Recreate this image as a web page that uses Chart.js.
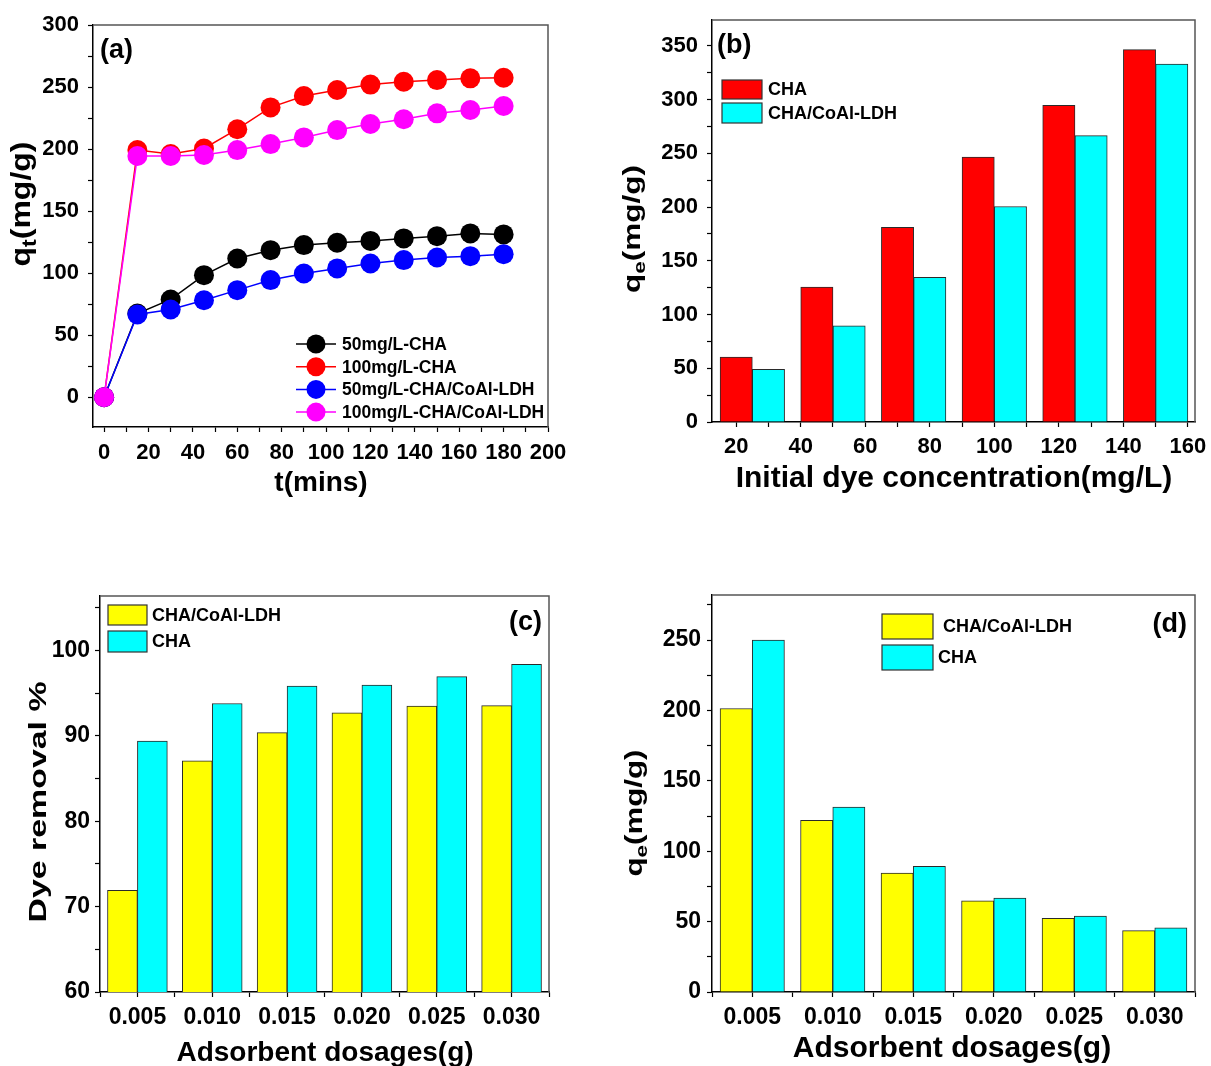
<!DOCTYPE html>
<html>
<head>
<meta charset="utf-8">
<title>Adsorption of dye on CHA and CHA/CoAl-LDH</title>
<script src="https://cdn.jsdelivr.net/npm/chart.js@4.4.1/dist/chart.umd.min.js"></script>
<style>
  html, body { margin: 0; padding: 0; background: #fff; overflow: hidden; }
  #wrap { position: relative; width: 1211px; height: 1066px; }
  #wrap canvas { position: absolute; left: 0; top: 0; }
</style>
</head>
<body>
<div id="wrap">
  <canvas id="panelA" width="1211" height="1066"></canvas>
  <canvas id="panelB" width="1211" height="1066"></canvas>
  <canvas id="panelC" width="1211" height="1066"></canvas>
  <canvas id="panelD" width="1211" height="1066"></canvas>
</div>
<script>
// ---- (a) contact time kinetics ----
const timeMin = [0, 15, 30, 45, 60, 75, 90, 105, 120, 135, 150, 165, 180];
const qtCHA50 = [0, 67.5, 78.8, 98.4, 111.8, 118.5, 122.6, 124.5, 126, 128, 129.8, 132, 131.2];
const qtCHA100 = [0, 199.2, 196, 200.5, 216, 233.6, 242.7, 247.6, 252, 254.3, 255.6, 257, 257.5];
const qtLDH50 = [0, 66.7, 70.7, 78.2, 86.3, 94.4, 99.7, 103.8, 107.8, 110.5, 112.6, 113.7, 115.3];
const qtLDH100 = [0, 194.4, 194.4, 195.2, 199.2, 204, 209.4, 215.3, 220.2, 224, 228.8, 231.5, 234.7];
const kineticsLabels = ['50mg/L-CHA', '100mg/L-CHA', '50mg/L-CHA/CoAl-LDH', '100mg/L-CHA/CoAl-LDH'];

// ---- (b) initial dye concentration ----
const initConc = [25, 50, 75, 100, 125, 150];
const qeConcCHA = [60.5, 125.5, 181, 246.5, 294.5, 346.5];
const qeConcLDH = [49, 89.5, 134.5, 200.5, 266.5, 333];

// ---- (c), (d) adsorbent dosage ----
const dosages = ['0.005', '0.010', '0.015', '0.020', '0.025', '0.030'];
const removalLDH = [71.9, 87.1, 90.4, 92.7, 93.5, 93.55];
const removalCHA = [89.4, 93.8, 95.85, 95.95, 96.95, 98.4];
const qeDoseLDH = [201.4, 122, 84.4, 64.7, 52.4, 43.6];
const qeDoseCHA = [250, 131.3, 89.3, 66.8, 54, 45.5];

const FONT = '"Liberation Sans", Arial, Helvetica, sans-serif';
const W = 1211, H = 1066;
const RED = '#ff0000', CYAN = '#00ffff', YELLOW = '#ffff00';
const BLACK = '#000000', BLUE = '#0000ff', MAGENTA = '#ff00ff';

Chart.defaults.font.family = FONT;
Chart.defaults.color = '#000';
Chart.defaults.animation = false;
Chart.defaults.events = [];
Chart.defaults.plugins.legend.display = false;
Chart.defaults.plugins.tooltip.enabled = false;

function boldFont(size) { return 'bold ' + size + 'px ' + FONT; }

// Plot frames (pixel boxes of each chart area on the page)
const frameA = { l: 93, r: 548, t: 25, b: 427 };
const frameB = { l: 712, r: 1195, t: 20, b: 422 };
const frameC = { l: 100, r: 549, t: 596, b: 992 };
const frameD = { l: 712, r: 1195, t: 595, b: 992 };
const Y_W = 80, X_H = 50;

function paddingFor(f) {
  return { left: f.l - Y_W, top: f.t, right: W - f.r, bottom: H - f.b - X_H };
}
function fixSize(scale) {
  if (scale.isHorizontal()) scale.height = X_H; else scale.width = Y_W;
  scale.paddingLeft = scale.paddingRight = scale.paddingTop = scale.paddingBottom = 0;
}
function axis(opts) {
  return {
    type: 'linear',
    min: opts.min, max: opts.max,
    offset: false,
    afterFit: fixSize,
    border: { display: true, color: '#000', width: 1.5 },
    grid: { display: true, offset: false, drawOnChartArea: false, drawTicks: true, tickLength: 5, tickColor: '#000', tickWidth: 1.2 },
    ticks: {
      stepSize: opts.step, includeBounds: false, autoSkip: false, maxRotation: 0, minRotation: 0,
      padding: opts.pad, color: '#000',
      font: { family: FONT, size: opts.size, weight: 'bold' },
      callback: opts.label
    }
  };
}
const everyOther = (major) => (v) => (Math.abs(v / major - Math.round(v / major)) < 1e-9 ? String(v) : '');
const dosageLabel = (v) => (Number.isInteger(v) && v >= 1 && v <= dosages.length ? dosages[v - 1] : '');

// Frame, panel tag, axis titles and legend box
const decor = {
  id: 'decor',
  afterDatasetsDraw(chart, args, o) {
    const ctx = chart.ctx, a = chart.chartArea;
    ctx.save();
    ctx.strokeStyle = '#555';
    ctx.lineWidth = 1.5;
    ctx.beginPath();
    ctx.moveTo(a.left, a.top);
    ctx.lineTo(a.right, a.top);
    ctx.lineTo(a.right, a.bottom);
    ctx.stroke();

    ctx.fillStyle = '#000';
    // panel tag
    if (o.tag) {
      ctx.font = boldFont(o.tag.size);
      ctx.textAlign = o.tag.align;
      ctx.textBaseline = 'middle';
      ctx.fillText(o.tag.text, o.tag.x, o.tag.y);
    }
    // x title
    if (o.xTitle) {
      ctx.font = boldFont(o.xTitle.size);
      ctx.textAlign = 'center';
      ctx.textBaseline = 'middle';
      ctx.fillText(o.xTitle.text, o.xTitle.x, o.xTitle.y);
    }
    // y title (rotated, with optional subscript)
    if (o.yTitle) {
      const t = o.yTitle;
      ctx.save();
      ctx.translate(t.x, t.y);
      ctx.rotate(-Math.PI / 2);
      let total = 0;
      const widths = t.parts.map(p => {
        ctx.font = boldFont(p.sub ? t.size * 0.72 : t.size);
        const w = ctx.measureText(p.text).width;
        total += w;
        return w;
      });
      ctx.scale(t.len / total, 1);
      ctx.textAlign = 'left';
      ctx.textBaseline = 'middle';
      let x = -total / 2;
      t.parts.forEach((p, i) => {
        ctx.font = boldFont(p.sub ? t.size * 0.72 : t.size);
        ctx.fillText(p.text, x, p.sub ? t.size * 0.3 : 0);
        x += widths[i];
      });
      ctx.restore();
    }
    // legend
    if (o.legend) {
      const L = o.legend;
      const sets = chart.data.datasets;
      ctx.font = boldFont(L.size);
      ctx.textAlign = 'left';
      ctx.textBaseline = 'middle';
      if (L.kind === 'marker') {
        sets.forEach((ds, i) => {
          const y = L.y0 + i * L.dy;
          ctx.strokeStyle = ds.borderColor;
          ctx.lineWidth = 1.5;
          ctx.beginPath();
          ctx.moveTo(L.x0, y);
          ctx.lineTo(L.x1, y);
          ctx.stroke();
          ctx.fillStyle = ds.backgroundColor;
          ctx.beginPath();
          ctx.arc(L.cx, y, L.r, 0, Math.PI * 2);
          ctx.fill();
          ctx.fillStyle = '#000';
          ctx.fillText(ds.label, L.tx, y + 1);
        });
      } else {
        L.rows.forEach((row, i) => {
          const ds = sets[i];
          ctx.fillStyle = ds.backgroundColor;
          ctx.fillRect(L.x, row.y, L.w, row.h);
          ctx.strokeStyle = '#333';
          ctx.lineWidth = 1.2;
          ctx.strokeRect(L.x, row.y, L.w, row.h);
          ctx.fillStyle = '#000';
          ctx.fillText(ds.label, row.tx, row.y + row.h / 2 + 1);
        });
      }
    }
    ctx.restore();
  }
};
Chart.register(decor);

// ---------- (a) ----------
function series(xs, ys) { return xs.map((x, i) => ({ x: x, y: ys[i] })); }
function lineSet(label, values, color, order) {
  return {
    label: label, data: series(timeMin, values), order: order,
    borderColor: color, backgroundColor: color,
    borderWidth: 1.5, pointRadius: 10, pointHoverRadius: 10,
    pointBorderWidth: 0, pointBackgroundColor: color, tension: 0, clip: false
  };
}
new Chart(document.getElementById('panelA'), {
  type: 'line',
  data: {
    datasets: [
      lineSet(kineticsLabels[0], qtCHA50, BLACK, 4),
      lineSet(kineticsLabels[1], qtCHA100, RED, 3),
      lineSet(kineticsLabels[2], qtLDH50, BLUE, 2),
      lineSet(kineticsLabels[3], qtLDH100, MAGENTA, 1)
    ]
  },
  options: {
    responsive: false,
    layout: { padding: paddingFor(frameA) },
    scales: {
      x: axis({ min: -5, max: 200, step: 10, pad: 8, size: 22, label: everyOther(20) }),
      y: axis({ min: -24, max: 300, step: 25, pad: 9, size: 22, label: everyOther(50) })
    },
    plugins: {
      decor: {
        tag: { text: '(a)', x: 100, y: 51, size: 27, align: 'left' },
        xTitle: { text: 't(mins)', x: 321, y: 483, size: 28 },
        yTitle: { parts: [{ text: 'q' }, { text: 't', sub: true }, { text: '(mg/g)' }], x: 23, y: 204, size: 27, len: 125 },
        legend: { kind: 'marker', x0: 296, x1: 336, cx: 316, r: 9.5, tx: 342, y0: 344, dy: 22.7, size: 17.5 }
      }
    }
  }
});

// ---------- bar helpers ----------
function barSet(label, xs, ys, color) {
  return {
    label: label, data: series(xs, ys),
    backgroundColor: color, borderColor: '#2a2a2a', borderWidth: 1,
    barThickness: 'flex', categoryPercentage: 0.8, barPercentage: 1.0
  };
}
const dosePos = dosages.map((d, i) => i + 1);

// ---------- (b) ----------
new Chart(document.getElementById('panelB'), {
  type: 'bar',
  data: {
    datasets: [
      barSet('CHA', initConc, qeConcCHA, RED),
      barSet('CHA/CoAl-LDH', initConc, qeConcLDH, CYAN)
    ]
  },
  options: {
    responsive: false,
    layout: { padding: paddingFor(frameB) },
    scales: {
      x: axis({ min: 12.5, max: 162.2, step: 10, pad: 7, size: 22, label: everyOther(20) }),
      y: axis({ min: 0, max: 374, step: 25, pad: 9, size: 22, label: everyOther(50) })
    },
    plugins: {
      decor: {
        tag: { text: '(b)', x: 717, y: 46, size: 27, align: 'left' },
        xTitle: { text: 'Initial dye concentration(mg/L)', x: 954, y: 479, size: 30 },
        yTitle: { parts: [{ text: 'q' }, { text: 'e', sub: true }, { text: '(mg/g)' }], x: 634, y: 229, size: 23, len: 128 },
        legend: { kind: 'box', x: 722, w: 40, size: 18, rows: [{ y: 80, h: 19, tx: 768 }, { y: 103, h: 20, tx: 768 }] }
      }
    }
  }
});

// ---------- (c) ----------
new Chart(document.getElementById('panelC'), {
  type: 'bar',
  data: {
    datasets: [
      barSet('CHA/CoAl-LDH', dosePos, removalLDH, YELLOW),
      barSet('CHA', dosePos, removalCHA, CYAN)
    ]
  },
  options: {
    responsive: false,
    layout: { padding: paddingFor(frameC) },
    scales: {
      x: axis({ min: 0.5, max: 6.5, step: 0.5, pad: 7, size: 23, label: dosageLabel }),
      y: axis({ min: 60, max: 106.4, step: 5, pad: 5, size: 23, label: everyOther(10) })
    },
    plugins: {
      decor: {
        tag: { text: '(c)', x: 542, y: 623, size: 27, align: 'right' },
        xTitle: { text: 'Adsorbent dosages(g)', x: 325, y: 1053, size: 28 },
        yTitle: { parts: [{ text: 'Dye removal %' }], x: 39, y: 802, size: 24, len: 241 },
        legend: { kind: 'box', x: 108, w: 39, size: 18, rows: [{ y: 605, h: 20, tx: 152 }, { y: 631, h: 21, tx: 152 }] }
      }
    }
  }
});

// ---------- (d) ----------
new Chart(document.getElementById('panelD'), {
  type: 'bar',
  data: {
    datasets: [
      barSet('CHA/CoAl-LDH', dosePos, qeDoseLDH, YELLOW),
      barSet('CHA', dosePos, qeDoseCHA, CYAN)
    ]
  },
  options: {
    responsive: false,
    layout: { padding: paddingFor(frameD) },
    scales: {
      x: axis({ min: 0.5, max: 6.5, step: 0.5, pad: 7, size: 23, label: dosageLabel }),
      y: axis({ min: 0, max: 282, step: 25, pad: 6, size: 23, label: everyOther(50) })
    },
    plugins: {
      decor: {
        tag: { text: '(d)', x: 1187, y: 625, size: 27, align: 'right' },
        xTitle: { text: 'Adsorbent dosages(g)', x: 952, y: 1049, size: 30 },
        yTitle: { parts: [{ text: 'q' }, { text: 'e', sub: true }, { text: '(mg/g)' }], x: 636, y: 813, size: 23, len: 127 },
        legend: { kind: 'box', x: 882, w: 51, size: 18, rows: [{ y: 614, h: 25, tx: 943 }, { y: 645, h: 25, tx: 938 }] }
      }
    }
  }
});
</script>
</body>
</html>
